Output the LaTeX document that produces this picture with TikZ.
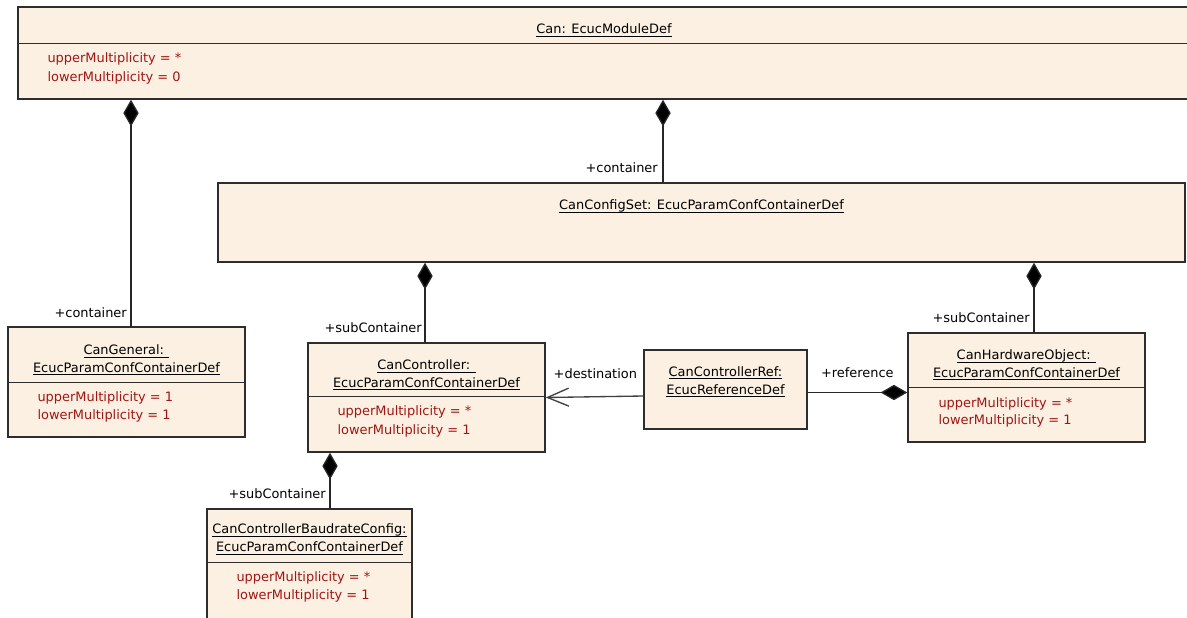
\documentclass[tikz,border=0pt]{standalone}
\usepackage{fontspec}
\setmainfont{DejaVu Sans}
\usetikzlibrary{arrows.meta,fit,calc}

\definecolor{boxfill}{RGB}{251,240,225}
\definecolor{attrred}{RGB}{160,22,22}
\definecolor{edgegray}{RGB}{45,45,45}

% underlined class title with a fixed underline offset
\newcommand\titleul[1]{\setbox0\hbox{#1}\rlap{\rule[-2.4pt]{\wd0}{0.85pt}}\box0}

\tikzset{
  umlbox/.style={draw=edgegray, line width=1.1pt, fill=boxfill, inner sep=0pt, rectangle},
  divider/.style={draw=edgegray, line width=1.1pt},
  txt/.style={inner sep=0pt, font=\fontsize{9.7}{11}\selectfont},
  title/.style={txt, anchor=base},
  attr/.style={txt, anchor=base west, text=attrred},
  role/.style={txt, anchor=base east},
  rolel/.style={txt, anchor=base west},
  comp/.style={draw=black!85, fill=black, line width=1pt, {Diamond[length=20pt,width=11.5pt,fill=black]}-},
  nav/.style={draw=black!75, line width=1pt, -{Straight Barb[length=16pt,width=13.5pt,line width=1pt]}},
}

\begin{document}
\begin{tikzpicture}[x=0.75pt, y=-0.75pt]
\useasboundingbox (0,0) rectangle (1187,617);
\clip (0,0) rectangle (1187,617);

% class boxes
\node[umlbox, fit={(18,7) (1200,99)}] (mod) {};
\node[umlbox, fit={(218,183) (1185,262)}] (cfg) {};
\node[umlbox, fit={(8,327) (245,437)}] (gen) {};
\node[umlbox, fit={(308,343) (545,452)}] (cc) {};
\node[umlbox, fit={(207,509) (412,640)}] (bd) {};
\node[umlbox, fit={(644,350) (807,429)}] (ref) {};
\node[umlbox, fit={(908,333) (1145,442)}] (hw) {};

% compartment dividers
\draw[divider] ($(mod.north west)+(0,37)$) -- ($(mod.north east)+(0,37)$);
\draw[divider] ($(gen.north west)+(0,56)$) -- ($(gen.north east)+(0,56)$);
\draw[divider] ($(cc.north west)+(0,54)$) -- ($(cc.north east)+(0,54)$);
\draw[divider] ($(bd.north west)+(0,54)$) -- ($(bd.north east)+(0,54)$);
\draw[divider] ($(hw.north west)+(0,55)$) -- ($(hw.north east)+(0,55)$);

% titles
\node[title] (modT) at ($(mod.north)+(-5,27.5)$) {\titleul{Can: EcucModuleDef}};
\node[title] (cfgT) at ($(cfg.north)+(0,27.5)$) {\titleul{CanConfigSet: EcucParamConfContainerDef}};
\node[title] (genT1) at ($(gen.north)+(0,28.5)$) {\titleul{CanGeneral: }};
\node[title] (genT2) at ($(gen.north)+(0,46)$) {\titleul{EcucParamConfContainerDef}};
\node[title] (ccT1) at ($(cc.north)+(0,27.5)$) {\titleul{CanController: }};
\node[title] (ccT2) at ($(cc.north)+(0,45)$) {\titleul{EcucParamConfContainerDef}};
\node[title] (bdT1) at ($(bd.north)+(0,25.5)$) {\titleul{CanControllerBaudrateConfig:}};
\node[title] (bdT2) at ($(bd.north)+(0,43.5)$) {\titleul{EcucParamConfContainerDef}};
\node[title] (refT1) at ($(ref.north)+(0,27)$) {\titleul{CanControllerRef:}};
\node[title] (refT2) at ($(ref.north)+(0,45)$) {\titleul{EcucReferenceDef}};
\node[title] (hwT1) at ($(hw.north)+(0,27.5)$) {\titleul{CanHardwareObject: }};
\node[title] (hwT2) at ($(hw.north)+(0,45)$) {\titleul{EcucParamConfContainerDef}};

% attributes
\node[attr] (modA1) at ($(mod.north west)+(30,56.5)$) {upperMultiplicity = *};
\node[attr] (modA2) at ($(mod.north west)+(30,75)$) {lowerMultiplicity = 0};
\node[attr] (genA1) at ($(gen.north west)+(30,75)$) {upperMultiplicity = 1};
\node[attr] (genA2) at ($(gen.north west)+(30,93)$) {lowerMultiplicity = 1};
\node[attr] (ccA1) at ($(cc.north west)+(30,73.5)$) {upperMultiplicity = *};
\node[attr] (ccA2) at ($(cc.north west)+(30,92)$) {lowerMultiplicity = 1};
\node[attr] (bdA1) at ($(bd.north west)+(30,73)$) {upperMultiplicity = *};
\node[attr] (bdA2) at ($(bd.north west)+(30,91)$) {lowerMultiplicity = 1};
\node[attr] (hwA1) at ($(hw.north west)+(31,75)$) {upperMultiplicity = *};
\node[attr] (hwA2) at ($(hw.north west)+(31,92)$) {lowerMultiplicity = 1};

% attachment points of the composition lines
\coordinate (genTop) at ($(gen.north)+(4.5,0)$);
\coordinate (cfgTop) at ($(cfg.north)+(-38.5,0)$);
\coordinate (ccTop) at ($(cc.north)+(-1.5,0)$);
\coordinate (hwTop) at ($(hw.north)+(7.5,0)$);
\coordinate (bdTop) at ($(bd.north)+(20.5,0)$);

% compositions
\draw[comp] (mod.south -| genTop) -- (genTop);
\draw[comp] (mod.south -| cfgTop) -- (cfgTop);
\draw[comp] (cfg.south -| ccTop) -- (ccTop);
\draw[comp] (cfg.south -| hwTop) -- (hwTop);
\draw[comp] (cc.south -| bdTop) -- (bdTop);
\draw[comp] ($(hw.west)+(0,5)$) -- ($(ref.east)+(0,3)$);

% reference destination
\draw[nav] ($(ref.west)+(0,6.5)$) -- (cc.east);

% role names
\node[role] (genR) at ($(genTop)+(-4,-8.5)$) {+container};
\node[role] (cfgR) at ($(cfgTop)+(-5,-9.5)$) {+container};
\node[role] (ccR) at ($(ccTop)+(-3,-9.5)$) {+subContainer};
\node[role] (hwR) at ($(hwTop)+(-4,-9.5)$) {+subContainer};
\node[role] (bdR) at ($(bdTop)+(-4,-9.5)$) {+subContainer};
\node[role] (dstR) at ($(ref.west)+(-6,-11)$) {+destination};
\node[rolel] (refR) at ($(ref.east)+(13,-12)$) {+reference};
\end{tikzpicture}
\end{document}
